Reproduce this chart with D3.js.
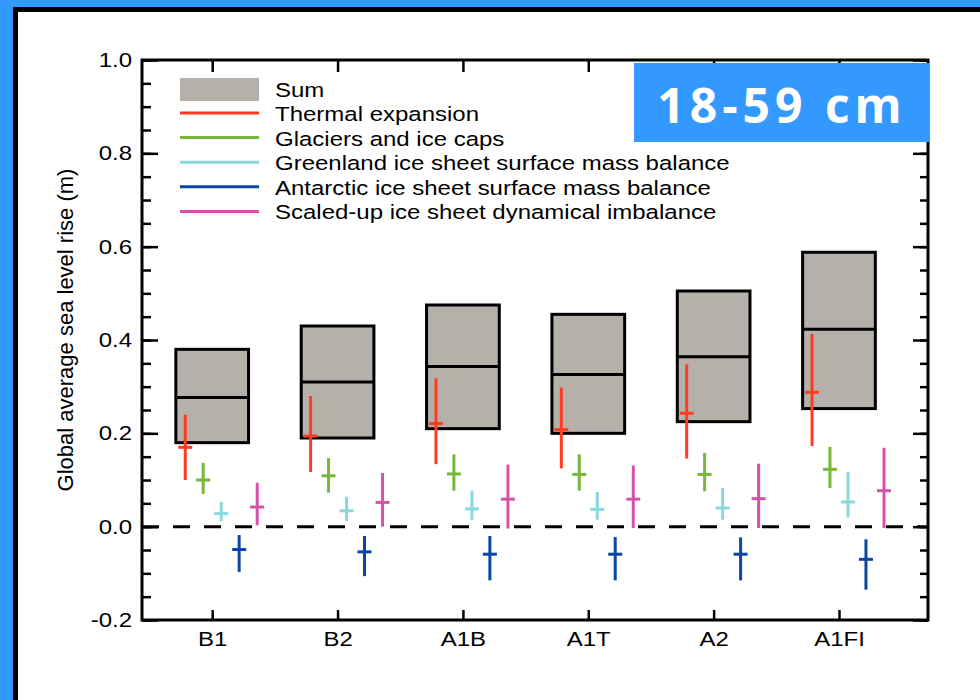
<!DOCTYPE html>
<html>
<head>
<meta charset="utf-8">
<script src="https://cdn.jsdelivr.net/npm/d3@7"></script>
<style>
  body { margin: 0; background: #fff; }
  svg { display: block; }
  text { font-family: "Liberation Sans", Arial, Helvetica, sans-serif; fill: #000; }
</style>
</head>
<body>
<div id="chart"></div>
<script>
// scenarios along the x axis
var scenarios = ["B1", "B2", "A1B", "A1T", "A2", "A1FI"];

// sum range [low, mid, high] in metres
var sumRange = [[0.18, 0.277, 0.38], [0.19, 0.31, 0.43], [0.21, 0.343, 0.475],
                [0.20, 0.326, 0.455], [0.225, 0.364, 0.505], [0.253, 0.423, 0.588]];

// components [low, mid, high]
var thermal = [[0.10, 0.17, 0.24], [0.117, 0.194, 0.28], [0.134, 0.221, 0.318],
               [0.125, 0.208, 0.298], [0.146, 0.243, 0.348], [0.173, 0.288, 0.413]];
var glaciers = [[0.07, 0.10, 0.137], [0.073, 0.109, 0.147], [0.077, 0.113, 0.155],
                [0.077, 0.112, 0.155], [0.076, 0.112, 0.158], [0.083, 0.123, 0.171]];
var greenland = [[0.012, 0.028, 0.053], [0.012, 0.034, 0.064], [0.015, 0.038, 0.077],
                 [0.015, 0.037, 0.074], [0.015, 0.04, 0.083], [0.02, 0.053, 0.117]];
var antarctic = [[-0.097, -0.049, -0.018], [-0.106, -0.054, -0.02], [-0.115, -0.059, -0.02],
                 [-0.115, -0.059, -0.022], [-0.115, -0.059, -0.023], [-0.135, -0.07, -0.027]];
var dynamics = [[0.003, 0.042, 0.094], [0.0, 0.052, 0.115], [-0.004, 0.059, 0.133],
                [-0.003, 0.059, 0.131], [-0.003, 0.06, 0.135], [-0.003, 0.077, 0.169]];

var seriesNames = ["Thermal expansion", "Glaciers and ice caps",
  "Greenland ice sheet surface mass balance", "Antarctic ice sheet surface mass balance",
  "Scaled-up ice sheet dynamical imbalance"];
var seriesColors = ["#ff3b22", "#77b73a", "#88d8dc", "#0b45a6", "#d652a8"];
var seriesData = [thermal, glaciers, greenland, antarctic, dynamics];
var seriesOffset = [-0.215, -0.072, 0.072, 0.215, 0.359];

var yMajor = [-0.2, 0.0, 0.2, 0.4, 0.6, 0.8, 1.0];
var yMajorLabels = ["-0.2", "0.0", "0.2", "0.4", "0.6", "0.8", "1.0"];
var yMinor = d3.range(-0.2, 1.001, 0.05).map(function(v) { return +v.toFixed(2); });

var W = 980, H = 700;
var STRETCH = 1.17; // reference text is a bit wider than Arial
var blue = "#3399ff";
var sumFill = "#b5b0aa";

var svg = d3.select("#chart").append("svg").attr("width", W).attr("height", H);

// frame around the picture
svg.append("rect").attr("x", 0).attr("y", 0).attr("width", W).attr("height", 7).attr("fill", blue);
svg.append("rect").attr("x", 0).attr("y", 0).attr("width", 13).attr("height", H).attr("fill", blue);
svg.append("rect").attr("x", 13).attr("y", 7).attr("width", W - 13).attr("height", 5).attr("fill", "#000");
svg.append("rect").attr("x", 13).attr("y", 7).attr("width", 5).attr("height", H - 7).attr("fill", "#000");

var pLeft = 142, pRight = 928, pTop = 60, pBottom = 620;
var x = d3.scaleLinear().domain([-0.56, 5.71]).range([pLeft, pRight]);
var y = d3.scaleLinear().domain([-0.2, 1.0]).range([pBottom, pTop]);

function styleAxis(g) {
  g.select(".domain").remove();
  g.selectAll(".tick line").attr("stroke", "#000").attr("stroke-width", 2.5);
  g.selectAll(".tick text").attr("font-size", 20.5).attr("class", "stretch");
}

// left axis
svg.append("g").attr("transform", "translate(" + pLeft + ",0)")
  .call(d3.axisLeft(y).tickValues(yMinor).tickSize(-9).tickFormat(""))
  .call(styleAxis);
svg.append("g").attr("transform", "translate(" + pLeft + ",0)")
  .call(d3.axisLeft(y).tickValues(yMajor).tickSize(-16).tickPadding(10)
    .tickFormat(function(v, i) { return yMajorLabels[i]; }))
  .call(styleAxis);
// right axis
svg.append("g").attr("transform", "translate(" + pRight + ",0)")
  .call(d3.axisRight(y).tickValues(yMinor).tickSize(-8).tickFormat(""))
  .call(styleAxis);
svg.append("g").attr("transform", "translate(" + pRight + ",0)")
  .call(d3.axisRight(y).tickValues(yMajor).tickSize(-15).tickFormat(""))
  .call(styleAxis);
// bottom and top axes
svg.append("g").attr("transform", "translate(0," + pBottom + ")")
  .call(d3.axisBottom(x).tickValues(d3.range(scenarios.length)).tickSize(-10).tickPadding(11)
    .tickFormat(function(i) { return scenarios[i]; }))
  .call(styleAxis);
svg.append("g").attr("transform", "translate(0," + pTop + ")")
  .call(d3.axisTop(x).tickValues(d3.range(scenarios.length)).tickSize(-12).tickFormat(""))
  .call(styleAxis);

// plot frame
svg.append("rect").attr("x", pLeft).attr("y", pTop).attr("width", pRight - pLeft).attr("height", pBottom - pTop)
  .attr("fill", "none").attr("stroke", "#000").attr("stroke-width", 3);

// zero line
svg.append("line").attr("x1", pLeft).attr("x2", pRight).attr("y1", y(0)).attr("y2", y(0))
  .attr("stroke", "#000").attr("stroke-width", 3).attr("stroke-dasharray", "17,14");

// y label
svg.append("text")
  .attr("transform", "translate(73," + (y(0.4) - 10) + ") rotate(-90)")
  .attr("text-anchor", "middle").attr("font-size", 22)
  .text("Global average sea level rise (m)");

// sum boxes
var boxHalf = 0.29;
var boxes = svg.append("g").selectAll("g").data(sumRange).enter().append("g");
boxes.append("rect")
  .attr("x", function(d, i) { return x(i - boxHalf); })
  .attr("width", function(d, i) { return x(i + boxHalf) - x(i - boxHalf); })
  .attr("y", function(d) { return y(d[2]); })
  .attr("height", function(d) { return y(d[0]) - y(d[2]); })
  .attr("fill", sumFill).attr("stroke", "#000").attr("stroke-width", 3);
boxes.append("line")
  .attr("x1", function(d, i) { return x(i - boxHalf); })
  .attr("x2", function(d, i) { return x(i + boxHalf); })
  .attr("y1", function(d) { return y(d[1]); })
  .attr("y2", function(d) { return y(d[1]); })
  .attr("stroke", "#000").attr("stroke-width", 3);

// component error bars
seriesData.forEach(function(data, k) {
  var g = svg.append("g").attr("stroke", seriesColors[k]).attr("stroke-width", 3);
  var sel = g.selectAll("g").data(data).enter().append("g");
  sel.append("line")
    .attr("x1", function(d, i) { return x(i + seriesOffset[k]); })
    .attr("x2", function(d, i) { return x(i + seriesOffset[k]); })
    .attr("y1", function(d) { return y(d[0]); })
    .attr("y2", function(d) { return y(d[2]); });
  sel.append("line")
    .attr("x1", function(d, i) { return x(i + seriesOffset[k]) - 7; })
    .attr("x2", function(d, i) { return x(i + seriesOffset[k]) + 7; })
    .attr("y1", function(d) { return y(d[1]); })
    .attr("y2", function(d) { return y(d[1]); });
});

// legend
var legend = svg.append("g").attr("transform", "translate(180,0)");
legend.append("rect").attr("x", 0).attr("y", 78).attr("width", 79).attr("height", 23).attr("fill", sumFill);
legend.append("text").attr("x", 95).attr("y", 97).attr("font-size", 20.5).attr("class", "stretch").text("Sum");
seriesNames.forEach(function(name, k) {
  var ly = 113 + k * 24.6;
  legend.append("line").attr("x1", 0).attr("x2", 79).attr("y1", ly).attr("y2", ly)
    .attr("stroke", seriesColors[k]).attr("stroke-width", 3);
  legend.append("text").attr("x", 95).attr("y", ly + 8).attr("font-size", 20.5)
    .attr("class", "stretch").text(name);
});

// stretch text horizontally
svg.selectAll("text.stretch").each(function() {
  var t = d3.select(this);
  var len = this.getComputedTextLength();
  if (len > 0) t.attr("textLength", len * STRETCH).attr("lengthAdjust", "spacingAndGlyphs");
});

// callout
svg.append("rect").attr("x", 634).attr("y", 63).attr("width", 296).attr("height", 79).attr("fill", blue);
svg.append("text").attr("x", 782).attr("y", 123).attr("text-anchor", "middle")
  .style("font-family", "'Open Sans', sans-serif").style("font-weight", 700)
  .style("fill", "#fff").attr("font-size", 48).attr("letter-spacing", 5)
  .text("18-59 cm");
</script>
</body>
</html>
